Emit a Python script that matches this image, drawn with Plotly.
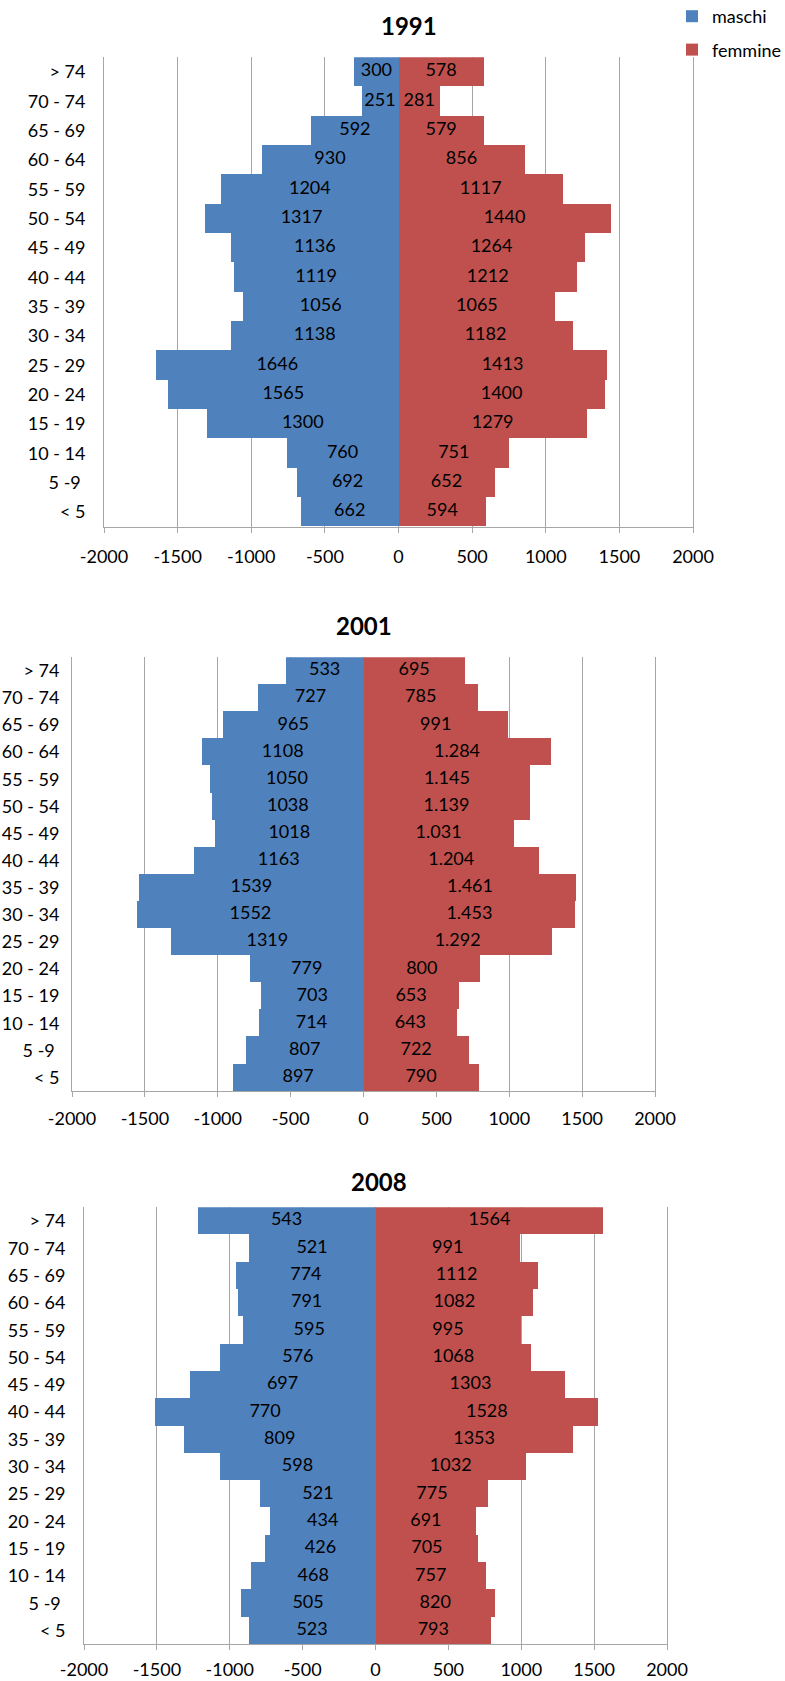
import plotly.graph_objects as go

W, H = 785, 1681

categories = ["< 5", "5 -9\u00a0", "10 - 14", "15 - 19", "20 - 24", "25 - 29", "30 - 34",
              "35 - 39", "40 - 44", "45 - 49", "50 - 54", "55 - 59", "60 - 64",
              "65 - 69", "70 - 74", "> 74"]

x_ticks = [-2000, -1500, -1000, -500, 0, 500, 1000, 1500, 2000]

# 1991
maschi_1991 = [662, 692, 760, 1300, 1565, 1646, 1138, 1056, 1119, 1136, 1317, 1204, 930, 592, 251, 300]
femmine_1991 = [594, 652, 751, 1279, 1400, 1413, 1182, 1065, 1212, 1264, 1440, 1117, 856, 579, 281, 578]

# 2001
maschi_2001 = [897, 807, 714, 703, 779, 1319, 1552, 1539, 1163, 1018, 1038, 1050, 1108, 965, 727, 533]
femmine_2001 = [790, 722, 643, 653, 800, 1292, 1453, 1461, 1204, 1031, 1139, 1145, 1284, 991, 785, 695]

# 2008 (male bar lengths differ from the printed male labels in the original)
maschi_2008_bars = [870, 925, 855, 755, 725, 790, 1070, 1315, 1515, 1275, 1065, 910, 945, 955, 870, 1220]
maschi_2008_labels = [523, 505, 468, 426, 434, 521, 598, 809, 770, 697, 576, 595, 791, 774, 521, 543]
femmine_2008 = [793, 820, 757, 705, 691, 775, 1032, 1353, 1528, 1303, 1068, 995, 1082, 1112, 991, 1564]

BLUE = "#4F81BD"
RED = "#C0504D"
GRID = "#A6A6A6"
FONT = "Lato, 'Open Sans', Arial, sans-serif"


def dot_thousands(v):
    return f"{v:,}".replace(",", ".")


panels = [
    dict(year="1991", m_bar=maschi_1991, m_lab=[str(v) for v in maschi_1991],
         f_bar=femmine_1991, f_lab=[str(v) for v in femmine_1991],
         x=(104, 693), y=(57.3, 526.5), title_xy=(408.5, 25.5),
         ystand=14, xstand=9, legend=True),
    dict(year="2001", m_bar=maschi_2001, m_lab=[str(v) for v in maschi_2001],
         f_bar=femmine_2001, f_lab=[dot_thousands(v) for v in femmine_2001],
         x=(72, 655), y=(657.3, 1091), title_xy=(363.5, 625.5),
         ystand=8, xstand=6, legend=False),
    dict(year="2008", m_bar=maschi_2008_bars, m_lab=[str(v) for v in maschi_2008_labels],
         f_bar=femmine_2008, f_lab=[str(v) for v in femmine_2008],
         x=(84, 667), y=(1207.3, 1644.3), title_xy=(379, 1181.5),
         ystand=14, xstand=4, legend=False),
]

fig = go.Figure()
annotations = []

for i, p in enumerate(panels, start=1):
    xa = "x" if i == 1 else f"x{i}"
    ya = "y" if i == 1 else f"y{i}"
    neg = [-v for v in p["m_bar"]]
    fig.add_trace(go.Bar(y=categories, x=neg, orientation="h", name="maschi",
                         marker=dict(color=BLUE, line=dict(width=0)),
                         xaxis=xa, yaxis=ya, showlegend=p["legend"],
                         legendgroup="m", hoverinfo="skip"))
    fig.add_trace(go.Bar(y=categories, x=p["f_bar"], orientation="h", name="femmine",
                         marker=dict(color=RED, line=dict(width=0)),
                         xaxis=xa, yaxis=ya, showlegend=p["legend"],
                         legendgroup="f", hoverinfo="skip"))
    # data labels centred in each bar
    fig.add_trace(go.Scatter(y=categories, x=[v / 2 for v in neg], mode="text",
                             text=p["m_lab"], textposition="middle center",
                             textfont=dict(family=FONT, size=18, color="#000"),
                             xaxis=xa, yaxis=ya, showlegend=False, hoverinfo="skip",
                             cliponaxis=False))
    fig.add_trace(go.Scatter(y=categories, x=[v / 2 for v in p["f_bar"]], mode="text",
                             text=p["f_lab"], textposition="middle center",
                             textfont=dict(family=FONT, size=18, color="#000"),
                             xaxis=xa, yaxis=ya, showlegend=False, hoverinfo="skip",
                             cliponaxis=False))

    x0, x1 = p["x"]
    y0, y1 = p["y"]
    xkey = "xaxis" if i == 1 else f"xaxis{i}"
    ykey = "yaxis" if i == 1 else f"yaxis{i}"
    fig.update_layout(**{
        xkey: dict(domain=[x0 / W, x1 / W], anchor=ya, range=[-2000, 2000],
                   tickmode="array", tickvals=x_ticks, ticktext=[str(t) for t in x_ticks],
                   showgrid=True, gridcolor=GRID, gridwidth=1, zeroline=False,
                   showline=True, linecolor=GRID, linewidth=1,
                   ticks="outside", ticklen=5, tickcolor=GRID,
                   ticklabelstandoff=p["xstand"], automargin=False,
                   tickfont=dict(family=FONT, size=18, color="#000"), fixedrange=True),
        ykey: dict(domain=[1 - y1 / H, 1 - y0 / H], anchor=xa, type="category",
                   range=[-0.5, len(categories) - 0.5], showgrid=False, zeroline=False,
                   showline=True, linecolor=GRID, linewidth=1, mirror=True,
                   ticks="", ticklabelstandoff=p["ystand"], automargin=False,
                   tickfont=dict(family=FONT, size=18, color="#000"), fixedrange=True),
    })
    tx, ty = p["title_xy"]
    annotations.append(dict(text=f"<b>{p['year']}</b>", x=tx / W, y=1 - ty / H,
                            xref="paper", yref="paper", xanchor="center", yanchor="middle",
                            showarrow=False, font=dict(family=FONT, size=24, color="#000")))

fig.update_layout(
    width=W, height=H,
    margin=dict(l=0, r=0, t=0, b=0, autoexpand=False),
    paper_bgcolor="white", plot_bgcolor="white",
    barmode="overlay", bargap=0,
    annotations=annotations,
    legend=dict(x=672 / W, y=1 + 2 / H, xanchor="left", yanchor="top",
                font=dict(family=FONT, size=18, color="#000"),
                tracegroupgap=7, itemwidth=30, bgcolor="rgba(0,0,0,0)"),
    font=dict(family=FONT),
)

fig.write_html("out.html", config={"displayModeBar": False},
               post_script="document.body.style.margin='0';document.body.style.padding='0';")
